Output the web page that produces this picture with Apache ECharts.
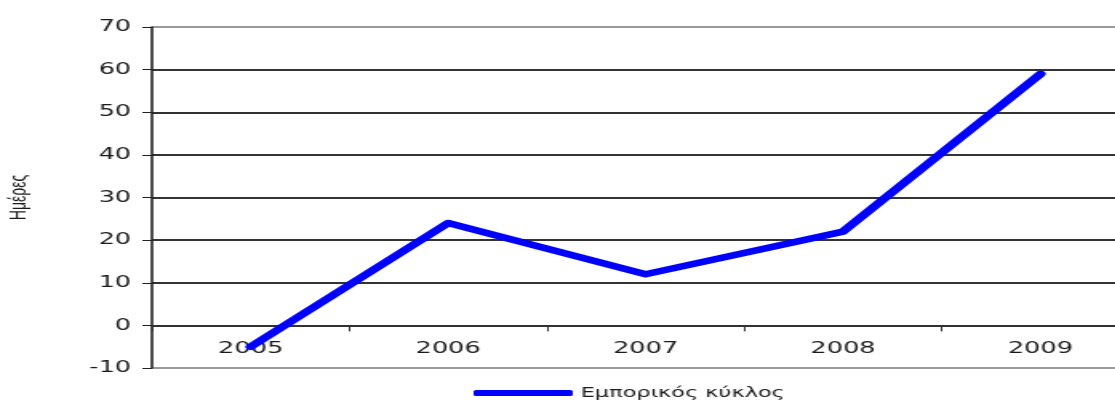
<!DOCTYPE html>
<html>
<head>
<meta charset="utf-8">
<script src="https://cdn.jsdelivr.net/npm/echarts@6/dist/echarts.min.js"></script>
<style>
  html, body { margin: 0; padding: 0; background: #fff; overflow: hidden; }
  /* the chart is laid out narrow and widened horizontally */
  #chart { width: 697px; height: 403px; transform: scaleX(1.6); transform-origin: 0 0; }
</style>
</head>
<body>
<div id="chart"></div>
<script>
const years = ['2005', '2006', '2007', '2008', '2009'];
const cycleDays = [-5, 24, 12, 22, 59];
const seriesName = 'Εμπορικός κύκλος';
const yAxisTitle = 'Ημέρες';
const yMin = -10, yMax = 70, yStep = 10;

// grid line colours: lighter frame at the bottom and top, dark lines inside
const gridColors = ['#9a9a9a', '#333333', '#333333', '#333333', '#333333', '#333333', '#333333', '#333333', '#9a9a9a'];

const gridTop = 27, gridHeight = 341, gridLeft = 95, gridWidth = 617;
// lift the category axis from the bottom edge up to the zero line
const zeroOffset = -gridHeight * (0 - yMin) / (yMax - yMin);

const chart = echarts.init(document.getElementById('chart'));
chart.setOption({
  animation: false,
  backgroundColor: '#ffffff',
  textStyle: { fontFamily: 'DejaVu Sans' },
  grid: {
    left: gridLeft, top: gridTop, width: gridWidth, height: gridHeight,
    containLabel: false, outerBoundsMode: 'none'
  },
  legend: {
    data: [seriesName],
    left: 291,
    top: 381,
    icon: 'roundRect',
    itemWidth: 62,
    itemHeight: 6,
    textStyle: { fontSize: 14, color: '#1a1a1a', fontFamily: 'DejaVu Sans' }
  },
  xAxis: {
    type: 'category',
    data: years,
    boundaryGap: true,
    position: 'bottom',
    offset: zeroOffset,
    axisLine: { onZero: false, lineStyle: { color: '#333333', width: 1.5 } },
    axisTick: { show: true, length: 6, lineStyle: { color: '#333333', width: 1 } },
    axisLabel: { fontSize: 16, color: '#1a1a1a', margin: 15 },
    splitLine: { show: false }
  },
  yAxis: {
    type: 'value',
    min: yMin,
    max: yMax,
    interval: yStep,
    name: yAxisTitle,
    nameLocation: 'middle',
    nameRotate: 90,
    nameGap: 76,
    nameTextStyle: { fontSize: 14, color: '#1a1a1a', fontFamily: 'Liberation Sans' },
    axisLine: { show: true, lineStyle: { color: '#222222', width: 1.6 } },
    axisTick: { show: true, length: 6, lineStyle: { color: '#222222', width: 1 } },
    axisLabel: { fontSize: 16, color: '#1a1a1a', margin: 13 },
    splitLine: { show: true, showMinLine: true, showMaxLine: true, lineStyle: { color: gridColors, width: 2 } }
  },
  series: [{
    name: seriesName,
    type: 'line',
    data: cycleDays,
    showSymbol: false,
    symbol: 'none',
    color: '#0000ff',
    lineStyle: { color: '#0000ff', width: 6.5, cap: 'round', join: 'round' }
  }]
});
</script>
</body>
</html>
